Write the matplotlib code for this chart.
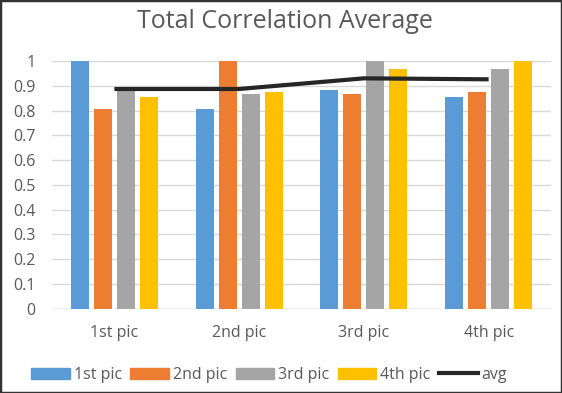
import numpy as np
import matplotlib.pyplot as plt
from matplotlib.lines import Line2D
from matplotlib.patches import Patch

# data
categories = ['1st pic', '2nd pic', '3rd pic', '4th pic']
pic1 = [1.0, 0.806, 0.882, 0.853]
pic2 = [0.806, 1.0, 0.867, 0.876]
pic3 = [0.887, 0.867, 1.0, 0.966]
pic4 = [0.853, 0.876, 0.966, 1.0]
avg = [0.887, 0.887, 0.930, 0.926]

series = [('1st pic', pic1, '#5B9BD5'),
          ('2nd pic', pic2, '#ED7D31'),
          ('3rd pic', pic3, '#A5A5A5'),
          ('4th pic', pic4, '#FFC000')]

plt.rcParams['font.family'] = ['Open Sans', 'DejaVu Sans']
txt = '#595959'
fs = 11.5

fig = plt.figure(figsize=(5.62, 3.93), dpi=100)
ax = fig.add_axes([52/562, 1 - 308.7/393, 499/562, 247.7/393])

x = np.arange(len(categories))
w = 0.144
step = 0.184
for i, (name, vals, col) in enumerate(series):
    ax.bar(x + (i - 1.5) * step, vals, width=w, color=col, zorder=2)
ax.plot(x, avg, color='#262626', lw=3, zorder=3, solid_capstyle='butt')

ax.set_xlim(-0.5, 3.5)
ax.set_ylim(0, 1)
ax.set_yticks(np.arange(0, 1.01, 0.1))
ax.set_yticklabels(['0', '0.1', '0.2', '0.3', '0.4', '0.5', '0.6', '0.7', '0.8', '0.9', '1'])
ax.set_xticks(x)
ax.set_xticklabels(categories)
ax.tick_params(length=0, colors=txt, labelsize=fs)
ax.tick_params(axis='y', pad=12)
ax.tick_params(axis='x', pad=12)
ax.grid(axis='y', color='#D9D9D9', lw=1, zorder=0)
for s in ax.spines.values():
    s.set_visible(False)
ax.axhline(0, color='#D9D9D9', lw=1, zorder=1)

fig.text(0.507, 1 - 28/393, 'Total Correlation Average', ha='center', va='baseline',
         fontsize=18, color=txt)

handles = [Patch(color=c) for _, _, c in series]
handles.append(Line2D([0], [0], color='#262626', lw=3))
labels = [n for n, _, _ in series] + ['avg']
fig.legend(handles, labels, loc='center', bbox_to_anchor=(0.479, 0.046), ncol=5,
           frameon=False, fontsize=fs, labelcolor=txt, handlelength=2.4,
           handleheight=0.65, handletextpad=0.25, columnspacing=0.55,
           borderpad=0, borderaxespad=0)

# dark frame around the picture
fig.patches.append(plt.Rectangle((0, 0), 1, 1, transform=fig.transFigure,
                                 fill=False, edgecolor='#333333', lw=2.5))

fig.savefig('out.png', dpi=100)
